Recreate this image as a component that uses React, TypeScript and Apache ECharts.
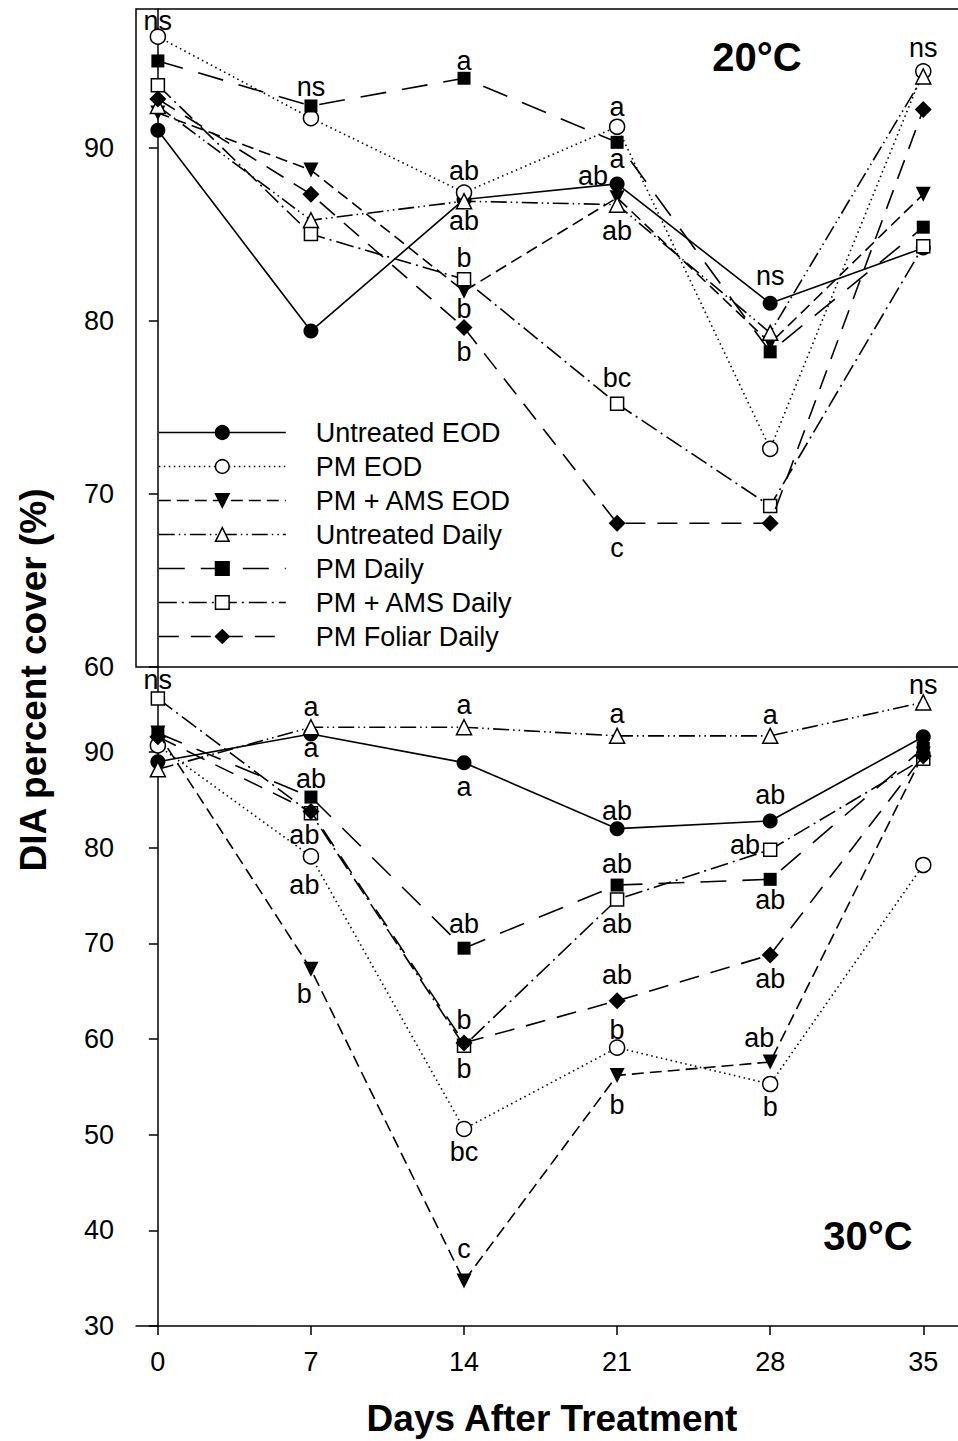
import React, { useEffect, useRef } from "react";
import * as echarts from "echarts";

const FONT = "'Liberation Sans', Arial, Helvetica, sans-serif";

const DAYS = [0, 7, 14, 21, 28, 35];
const X_TICKS = [0, 7, 14, 21, 28, 35];
const Y_TICKS_20 = [60, 70, 80, 90];
const Y_TICKS_30 = [30, 40, 50, 60, 70, 80, 90];
const NAMES = [
  "Untreated EOD",
  "PM EOD",
  "PM + AMS EOD",
  "Untreated Daily",
  "PM Daily",
  "PM + AMS Daily",
  "PM Foliar Daily",
];

// 20°C panel
const untreatedEOD20 = [91.0, 79.4, 87.0, 87.9, 81.0, 84.2];
const pmEOD20 = [96.4, 91.7, 87.4, 91.2, 72.6, 94.4];
const pmAmsEOD20 = [92.0, 88.7, 81.7, 87.1, 78.7, 87.3];
const untreatedDaily20 = [92.4, 85.8, 86.9, 86.7, 79.3, 94.1];
const pmDaily20 = [95.0, 92.4, 94.0, 90.3, 78.2, 85.4];
const pmAmsDaily20 = [93.6, 85.0, 82.4, 75.2, 69.3, 84.3];
const pmFoliarDaily20 = [92.8, 87.3, 79.6, 68.3, 68.3, 92.2];

// 30°C panel
const untreatedEOD30 = [89.0, 91.9, 88.9, 82.0, 82.8, 91.6];
const pmEOD30 = [90.7, 79.1, 50.6, 59.1, 55.3, 78.2];
const pmAmsEOD30 = [92.0, 67.3, 34.7, 56.2, 57.6, 89.8];
const untreatedDaily30 = [88.2, 92.6, 92.6, 91.7, 91.7, 95.2];
const pmDaily30 = [92.0, 85.3, 69.5, 76.1, 76.7, 90.4];
const pmAmsDaily30 = [95.6, 83.6, 59.3, 74.6, 79.8, 89.3];
const pmFoliarDaily30 = [91.6, 83.8, 59.6, 64.0, 68.8, 89.6];

const VALUES20 = [untreatedEOD20, pmEOD20, pmAmsEOD20, untreatedDaily20, pmDaily20, pmAmsDaily20, pmFoliarDaily20];
const VALUES30 = [untreatedEOD30, pmEOD30, pmAmsEOD30, untreatedDaily30, pmDaily30, pmAmsDaily30, pmFoliarDaily30];

// mean-separation letters: [day, value, text]
const letters20: [number, number, string][] = [
  [0, 97.3, "ns"],
  [7, 93.5, "ns"],
  [14, 95.0, "a"],
  [14, 88.66, "ab"],
  [14, 85.78, "ab"],
  [14, 83.64, "b"],
  [14, 80.7, "b"],
  [14, 78.17, "b"],
  [21, 92.35, "a"],
  [21, 89.35, "a"],
  [19.9, 88.37, "ab"],
  [21, 85.2, "ab"],
  [21, 76.67, "bc"],
  [21, 66.86, "c"],
  [28, 82.6, "ns"],
  [35, 95.76, "ns"],
];

const letters30: [number, number, string][] = [
  [0, 97.5, "ns"],
  [7, 94.77, "a"],
  [7, 90.4, "a"],
  [7, 87.2, "ab"],
  [6.7, 81.3, "ab"],
  [6.7, 76.07, "ab"],
  [6.7, 64.76, "b"],
  [14, 94.88, "a"],
  [14, 86.35, "a"],
  [14, 72.07, "ab"],
  [14, 62.04, "b"],
  [14, 56.82, "b"],
  [14, 48.21, "bc"],
  [14, 38.1, "c"],
  [21, 94.0, "a"],
  [21, 83.84, "ab"],
  [21, 78.27, "ab"],
  [21, 72.07, "ab"],
  [21, 66.67, "ab"],
  [21, 60.92, "b"],
  [21, 53.09, "b"],
  [28, 93.83, "a"],
  [28, 85.47, "ab"],
  [26.85, 80.25, "ab"],
  [28, 74.5, "ab"],
  [28, 66.32, "ab"],
  [27.5, 60.06, "ab"],
  [28, 52.91, "b"],
  [35, 96.97, "ns"],
];

const STYLES: { symbol: string; size: number; filled: boolean; dash: any; rotate: number }[] = [
  { symbol: "circle", size: 15, filled: true, dash: "solid", rotate: 0 },
  { symbol: "circle", size: 15, filled: false, dash: [1.5, 3.5], rotate: 0 },
  { symbol: "triangle", size: 15, filled: true, dash: [12, 6], rotate: 180 },
  { symbol: "triangle", size: 15, filled: false, dash: [16, 4, 1.5, 4, 1.5, 4], rotate: 0 },
  { symbol: "rect", size: 13, filled: true, dash: [26, 16], rotate: 0 },
  { symbol: "rect", size: 13, filled: false, dash: [18, 5, 2, 5], rotate: 0 },
  { symbol: "diamond", size: 17, filled: true, dash: [20, 12], rotate: 0 },
];

function lineSeries(values: number[][], axis: number) {
  return values.map((vals, i) => {
    const s = STYLES[i];
    return {
      type: "line",
      name: NAMES[i],
      xAxisIndex: axis,
      yAxisIndex: axis,
      data: DAYS.map((d, j) => [d, vals[j]]),
      symbol: s.symbol,
      symbolSize: s.size,
      symbolRotate: s.rotate,
      showAllSymbol: true,
      lineStyle: { color: "#000", width: 1.6, type: s.dash },
      itemStyle: s.filled
        ? { color: "#000", borderColor: "#000", borderWidth: 0 }
        : { color: "#fff", borderColor: "#000", borderWidth: 1.5 },
      z: 2 + i * 0.01,
      emphasis: { disabled: true },
    };
  });
}

function letterSeries(letters: [number, number, string][], axis: number) {
  return {
    type: "scatter",
    name: "letters" + axis,
    xAxisIndex: axis,
    yAxisIndex: axis,
    symbolSize: 1,
    silent: true,
    z: 20,
    itemStyle: { color: "rgba(0,0,0,0)" },
    label: {
      show: true,
      position: [0.5, 0.5],
      align: "center",
      verticalAlign: "middle",
      color: "#000",
      opacity: 1,
      textBorderWidth: 0,
      fontSize: 27,
      fontFamily: FONT,
    },
    data: letters.map(([x, y, t]) => ({ value: [x, y], label: { formatter: t } })),
  };
}

const yLabelFmt = (v: number) => (Math.abs(v % 10) < 1e-6 ? String(v) : "");

export default function App() {
  const ref = useRef<HTMLDivElement>(null);

  useEffect(() => {
    if (!ref.current) return;
    const chart = echarts.init(ref.current, undefined, { renderer: "svg" });
    const axisLine = { show: true, lineStyle: { color: "#000", width: 1.5 } };
    const option: any = {
      animation: false,
      backgroundColor: "#fff",
      grid: [
        { left: 136, width: 831, top: 9, height: 658, show: true, borderColor: "#000", borderWidth: 1.5, backgroundColor: "transparent", outerBoundsMode: "none", containLabel: false },
        { left: 136, width: 831, top: 667, height: 659, show: false, outerBoundsMode: "none", containLabel: false },
      ],
      xAxis: [
        {
          type: "value",
          gridIndex: 0,
          min: -1,
          max: 37,
          axisLine: { show: false },
          axisTick: { show: false },
          axisLabel: { show: false },
          splitLine: { show: false },
        },
        {
          type: "value",
          gridIndex: 1,
          min: -1,
          max: 37,
          axisLine,
          axisTick: { show: true, inside: false, length: 9, customValues: X_TICKS, lineStyle: { color: "#000", width: 1.5 } },
          axisLabel: { show: true, customValues: X_TICKS, margin: 22, fontSize: 27, color: "#000", fontFamily: FONT },
          splitLine: { show: false },
        },
      ],
      yAxis: [
        {
          type: "value",
          gridIndex: 0,
          min: 60,
          max: 98,
          interval: 10,
          axisLine,
          axisTick: { show: true, length: 9, customValues: Y_TICKS_20, lineStyle: { color: "#000", width: 1.5 } },
          axisLabel: { show: true, customValues: Y_TICKS_20, formatter: yLabelFmt, margin: 22, fontSize: 27, color: "#000", fontFamily: FONT },
          splitLine: { show: false },
        },
        {
          type: "value",
          gridIndex: 1,
          min: 30,
          max: 98.9,
          interval: 10,
          axisLine,
          axisTick: { show: true, length: 9, customValues: Y_TICKS_30, lineStyle: { color: "#000", width: 1.5 } },
          axisLabel: { show: true, customValues: Y_TICKS_30, formatter: yLabelFmt, margin: 22, fontSize: 27, color: "#000", fontFamily: FONT },
          splitLine: { show: false },
        },
      ],
      legend: {
        data: NAMES,
        orient: "vertical",
        left: 153,
        top: 414,
        itemWidth: 127,
        itemHeight: 17,
        itemGap: 7,
        selectedMode: false,
        textStyle: { fontSize: 27, color: "#000", fontFamily: FONT, padding: [0, 0, 0, 25] },
        lineStyle: { width: 1.6 },
        itemStyle: { borderWidth: 1.5 },
      },
      graphic: [
        {
          type: "text",
          x: 33,
          y: 680,
          rotation: Math.PI / 2,
          style: { text: "DIA percent cover (%)", fontSize: 37, fontWeight: "bold", fontFamily: FONT, fill: "#000", align: "center", verticalAlign: "middle" },
        },
        {
          type: "text",
          x: 552,
          y: 1418,
          style: { text: "Days After Treatment", fontSize: 37, fontWeight: "bold", fontFamily: FONT, fill: "#000", align: "center", verticalAlign: "middle" },
        },
        {
          type: "text",
          x: 757,
          y: 57,
          style: { text: "20°C", fontSize: 40, fontWeight: "bold", fontFamily: FONT, fill: "#000", align: "center", verticalAlign: "middle" },
        },
        {
          type: "text",
          x: 868,
          y: 1236,
          style: { text: "30°C", fontSize: 40, fontWeight: "bold", fontFamily: FONT, fill: "#000", align: "center", verticalAlign: "middle" },
        },
      ],
      series: [
        ...lineSeries(VALUES20, 0),
        ...lineSeries(VALUES30, 1),
        letterSeries(letters20, 0),
        letterSeries(letters30, 1),
      ],
    };
    chart.setOption(option);
    return () => chart.dispose();
  }, []);

  return (
    <div
      ref={ref}
      style={{ position: "absolute", left: 0, top: 0, width: 958, height: 1441, background: "#fff" }}
    />
  );
}
